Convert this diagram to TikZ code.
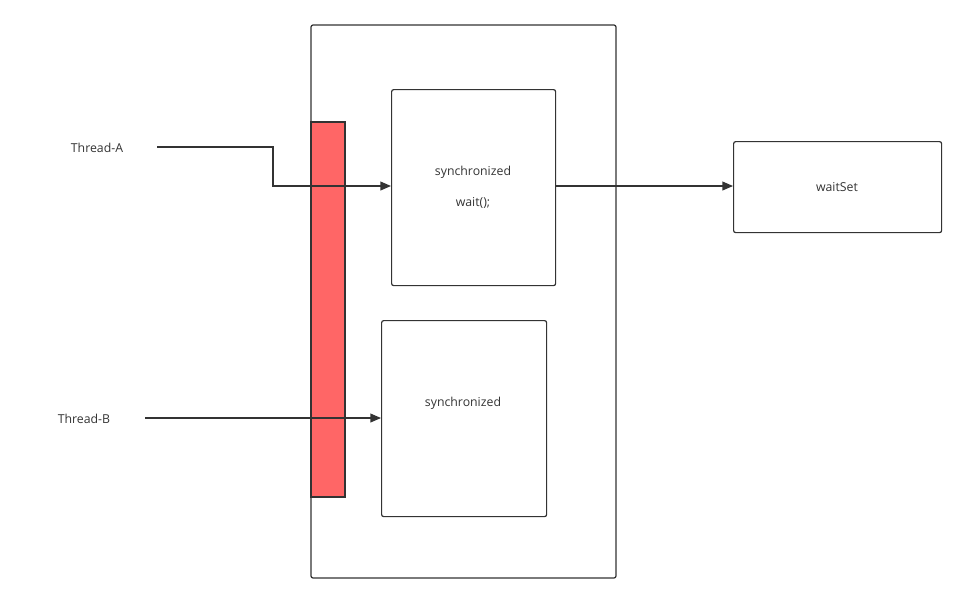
\documentclass[tikz,border=0pt]{standalone}
\usepackage{fontspec}
\setmainfont{Open Sans}
\usetikzlibrary{arrows.meta}
\definecolor{ln}{HTML}{333333}
\definecolor{redbar}{HTML}{FF6666}
\begin{document}
\begin{tikzpicture}[x=0.02cm,y=-0.02cm,
  box/.style={draw=ln,line width=0.7pt,rounded corners=1.2pt},
  lbl/.style={font=\fontsize{7}{8}\selectfont,text=ln,inner sep=0},
  conn/.style={draw=ln,line width=0.7pt,-{Triangle[length=6pt,width=5pt]}}]
\useasboundingbox (0,0) rectangle (966,603);
\draw[box] (311,25) rectangle (616,578);
\draw[draw=ln,fill=redbar,line width=0.7pt] (311,122) rectangle (345,497);
\node[box,minimum width=164*0.02cm,minimum height=196*0.02cm,anchor=north west] (b1) at (391,89) {};
\node[box,minimum width=165*0.02cm,minimum height=196*0.02cm,anchor=north west] (b2) at (381,320) {};
\node[box,minimum width=208*0.02cm,minimum height=91*0.02cm,anchor=north west] (ws) at (733,141) {};
\node[lbl] (s1) at (473,172) {synchronized};
\node[lbl] (w1) at (473,203) {wait();};
\node[lbl] (s2) at (463,403) {synchronized};
\node[lbl] (wst) at (837,187) {waitSet};
\node[lbl] (ta) at (97,148) {Thread-A};
\node[lbl] (tb) at (84,419) {Thread-B};
\coordinate (a0) at (157,147);
\coordinate (b0) at (145,418);
\draw[conn] (a0) -- (273,147) -- (273,186) -- (b1.west|-0,186);
\draw[conn] (b0) -- (b2.west|-0,418);
\draw[conn] (b1.east|-0,186) -- (ws.west|-0,186);
\end{tikzpicture}
\end{document}
